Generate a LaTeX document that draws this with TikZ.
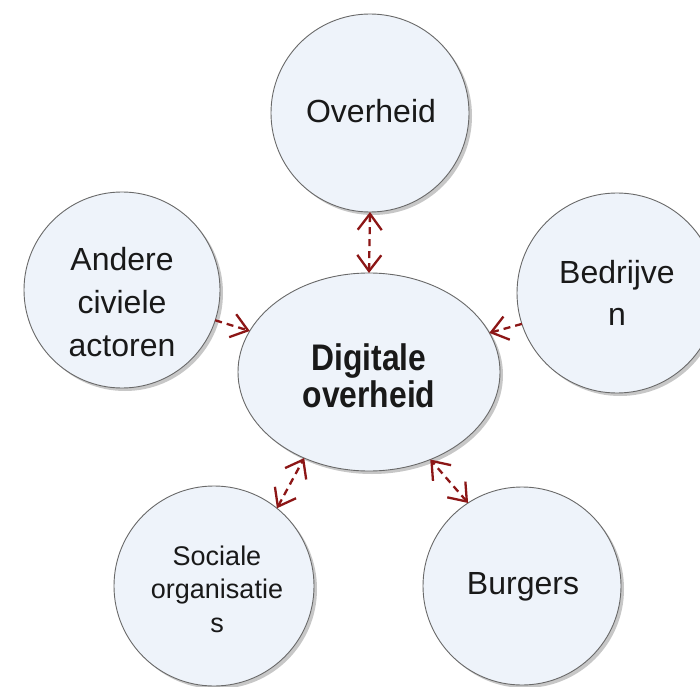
\documentclass[tikz,border=0pt]{standalone}
\usepackage{fontspec}
\setmainfont{Liberation Sans}
\newfontfamily\tallbold[FakeStretch=0.86]{Liberation Sans Bold}
\usetikzlibrary{shapes.geometric,arrows.meta,shadows}
\definecolor{circfill}{RGB}{238,243,250}
\definecolor{circline}{RGB}{105,105,105}
\definecolor{arrred}{RGB}{140,22,22}
\definecolor{txt}{RGB}{25,25,25}
\begin{document}
\begin{tikzpicture}[x=1pt,y=1pt,
  actor/.style={circle,draw=circline,line width=0.9pt,fill=circfill,outer sep=0pt,inner sep=0pt,
    drop shadow={shadow xshift=3pt,shadow yshift=-3pt,opacity=0.22,fill=black}},
  central/.style={ellipse,draw=circline,line width=0.9pt,fill=circfill,outer sep=0pt,inner sep=0pt,
    minimum width=262pt,minimum height=198pt,
    drop shadow={shadow xshift=3pt,shadow yshift=-3pt,opacity=0.22,fill=black}},
  lbl/.style={inner sep=0pt,align=center,text=txt,font=\fontsize{32}{43}\selectfont},
  conn/.style={draw=arrred,line width=2.3pt,dash pattern=on 7pt off 5pt,
    arrows={-Straight Barb[length=16pt,width=24pt,line width=2.3pt]}},
  bconn/.style={conn,arrows={Straight Barb[length=16pt,width=24pt,line width=2.3pt]-Straight Barb[length=16pt,width=24pt,line width=2.3pt]}}
]
\useasboundingbox (0,0) rectangle (700,686);
\fill[white] (0,0) rectangle (700,686);

\node[actor,minimum size=198pt] (ov) at (370,573) {};
\node[actor,minimum size=196pt] (and) at (122,396) {};
\node[actor,minimum size=200pt] (bed) at (617,393) {};
\node[actor,minimum size=200pt] (soc) at (214,100) {};
\node[actor,minimum size=198pt] (bur) at (522,100) {};
\node[central] (dig) at (369,314) {};

\node[lbl] (tov) at (371,574.5) {Overheid};
\node[lbl] (tand) at (122,384) {Andere\\civiele\\actoren};
\node[lbl,font=\fontsize{32}{42}\selectfont] (tbed) at (617,393.3) {Bedrijve\\n};
\node[lbl,font=\fontsize{27}{33.5}\selectfont] (tsoc) at (217,97) {Sociale\\organisatie\\s};
\node[lbl] (tbur) at (523,99) {Burgers};
\node[lbl,font=\tallbold\fontsize{37}{37}\selectfont] (tdig) at (369,310) {Digitale\\overheid};

\draw[bconn] (ov.south) -- (dig.north);
\draw[conn] (and.-18) -- (dig.161);
\draw[conn] (bed.198) -- (dig.18);
\draw[bconn] (soc.51) -- (dig.-127);
\draw[bconn] (bur.123) -- (dig.-55);
\end{tikzpicture}
\end{document}
